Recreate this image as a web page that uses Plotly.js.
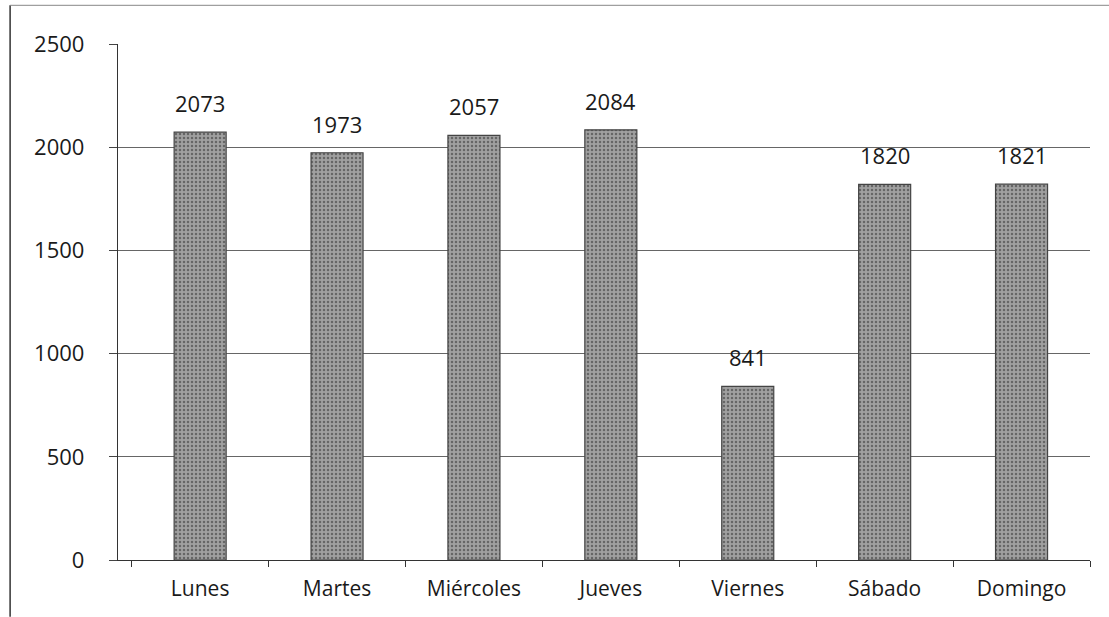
<!DOCTYPE html>
<html>
<head>
<meta charset="utf-8">
<script src="https://cdn.plot.ly/plotly-3.0.1.min.js"></script>
<style>html,body{margin:0;padding:0;background:#fff;}#chart{width:1109px;height:617px;}</style>
</head>
<body>
<div id="chart"></div>
<script>
const categories = ["Lunes", "Martes", "Miércoles", "Jueves", "Viernes", "Sábado", "Domingo"];
const values = [2073, 1973, 2057, 2084, 841, 1820, 1821];
const yTicks = [0, 500, 1000, 1500, 2000, 2500];

const FONT = "Open Sans, Liberation Sans, sans-serif";

const trace = {
  type: "bar",
  x: categories,
  y: values,
  width: 0.38,
  marker: {
    color: "#959595",
    line: {color: "#444", width: 1.2},
    pattern: {shape: ".", fgcolor: "#666", bgcolor: "#a0a0a0", size: 4, solidity: 0.3}
  },
  hoverinfo: "x+y"
};

const labels = categories.map((c, i) => ({
  x: c, y: values[i], xref: "x", yref: "y",
  text: String(values[i]), showarrow: false,
  yanchor: "bottom", yshift: 12,
  font: {family: FONT, size: 22, color: "#1a1a1a"}
}));

const layout = {
  width: 1109, height: 617,
  margin: {l: 118, r: 19, t: 44, b: 57},
  paper_bgcolor: "#ffffff",
  plot_bgcolor: "#ffffff",
  showlegend: false,
  font: {family: FONT, size: 22, color: "#1a1a1a"},
  xaxis: {
    type: "category",
    range: [-0.6, 6.5],
    showgrid: false,
    showline: true, linecolor: "#333", linewidth: 1.2,
    ticks: "outside", tickson: "boundaries", ticklen: 6, tickcolor: "#333",
    ticklabelstandoff: 10,
    tickfont: {family: FONT, size: 21, color: "#1a1a1a"},
    zeroline: false
  },
  yaxis: {
    range: [0, 2500],
    tickvals: yTicks,
    ticktext: yTicks.map(String),
    showgrid: true, gridcolor: "#666", gridwidth: 1,
    showline: true, linecolor: "#333", linewidth: 1.2,
    ticks: "outside", ticklen: 8, tickcolor: "#444",
    ticklabelstandoff: 20,
    tickfont: {family: FONT, size: 22, color: "#1a1a1a"},
    zeroline: false
  },
  annotations: labels,
  shapes: [
    {type: "line", xref: "paper", yref: "paper", x0: -0.111, x1: -0.111, y0: -0.11, y1: 1.075, line: {color: "#333", width: 1.5}},
    {type: "line", xref: "paper", yref: "paper", x0: -0.111, x1: 1.02, y0: 1.075, y1: 1.075, line: {color: "#888", width: 1}}
  ]
};

Plotly.newPlot("chart", [trace], layout, {staticPlot: true});
</script>
</body>
</html>
